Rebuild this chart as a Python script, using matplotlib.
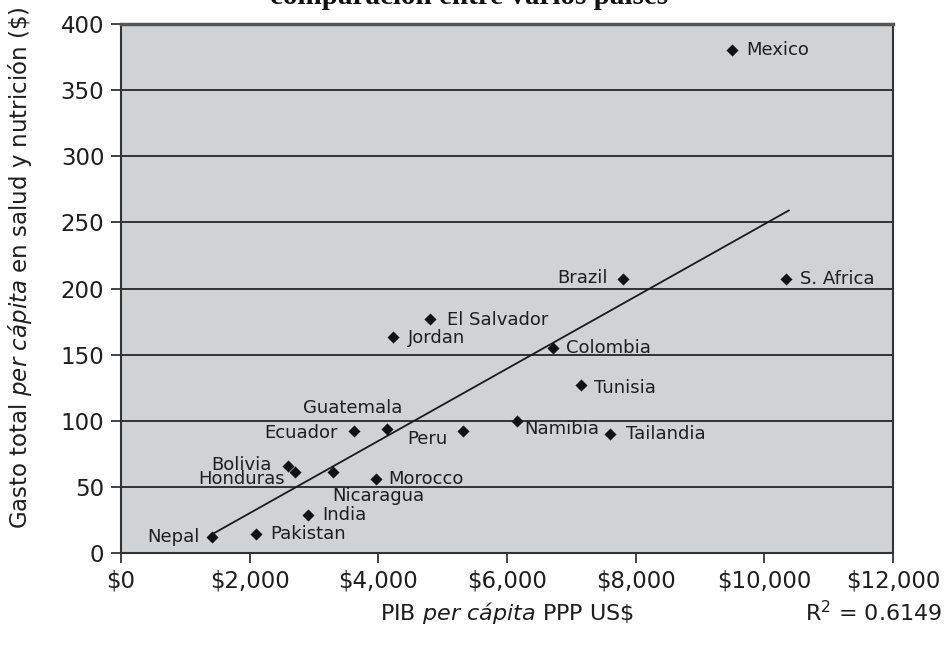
import matplotlib
matplotlib.use('Agg')
import matplotlib.pyplot as plt

# ---------------- data ----------------
countries = ["Nepal", "Pakistan", "India", "Bolivia", "Honduras", "Nicaragua",
             "Morocco", "Ecuador", "Guatemala", "Peru", "Jordan", "El Salvador",
             "Colombia", "Tunisia", "Namibia", "Tailandia", "Brazil", "S. Africa",
             "Mexico"]
gdp_pc = [1410, 2100, 2900, 2590, 2710, 3300, 3970, 3620, 4130, 5310, 4230, 4800,
          6720, 7150, 6150, 7600, 7800, 10340, 9500]
spend_pc = [12, 14, 29, 66, 61, 61, 56, 92, 94, 92, 163, 177, 155, 127, 100, 90,
            207, 207, 380]

trend_x = [1410, 10380]
trend_y = [14, 259]

x_ticks = [0, 2000, 4000, 6000, 8000, 10000, 12000]
x_tick_labels = ["$0", "$2,000", "$4,000", "$6,000", "$8,000", "$10,000", "$12,000"]
y_ticks = [0, 50, 100, 150, 200, 250, 300, 350, 400]
r2_text = "0.6149"

# label placement (offset pixels, horizontal alignment)
label_pos = {
    "Nepal": (-12, 0, "right"), "Pakistan": (14, 0, "left"), "India": (15, 0, "left"),
    "Bolivia": (-16, 1, "right"), "Honduras": (-10, -7, "right"),
    "Nicaragua": (45, -24, "center"), "Morocco": (12, 0, "left"),
    "Ecuador": (-16, -2, "right"), "Guatemala": (-34, 21, "center"),
    "Peru": (-15, -8, "right"), "Jordan": (15, -1, "left"),
    "El Salvador": (17, -1, "left"), "Colombia": (13, 0, "left"),
    "Tunisia": (13, -3, "left"), "Namibia": (8, -8, "left"),
    "Tailandia": (16, 0, "left"), "Brazil": (-15, 1, "right"),
    "S. Africa": (14, 0, "left"), "Mexico": (14, 0, "left"),
}

plt.rcParams['font.family'] = ['DejaVu Sans']
plt.rcParams['mathtext.fontset'] = 'dejavusans'
TXT = '#1e1e1e'

fig = plt.figure(figsize=(9.46, 6.47), dpi=100)
ax = fig.add_axes([121/946, 1 - 553/647, 772/946, 529/647])
ax.set_facecolor('#d1d2d4')
ax.set_xlim(0, 12000)
ax.set_ylim(0, 400)
ax.set_xticks(x_ticks)
ax.set_xticklabels(x_tick_labels)
ax.set_yticks(y_ticks)
ax.tick_params(direction='out', length=7, width=1.2, labelsize=16.5,
               colors='#222222', labelcolor=TXT, pad=5)

for y in y_ticks[1:-1]:
    ax.axhline(y, color='#262626', lw=1.3, zorder=1)

for side, sp in ax.spines.items():
    sp.set_color('#333333')
    sp.set_linewidth(1.5)
ax.spines['top'].set_linewidth(2.5)
ax.spines['top'].set_color('#555555')

ax.plot(trend_x, trend_y, color='#1a1a1a', lw=1.3, zorder=2)
ax.scatter(gdp_pc, spend_pc, marker='D', s=38, color='#111111', zorder=3,
           linewidths=0)

for name, x, y in zip(countries, gdp_pc, spend_pc):
    dx, dy, ha = label_pos[name]
    ax.annotate(name, (x, y), xytext=(dx, dy), textcoords='offset pixels',
                ha=ha, va='center', fontsize=13, color=TXT, zorder=4)

fig.text(20/946, 1 - 268/647,
         r'Gasto total $\mathit{per\ cápita}$ en salud y nutrición (\$)',
         rotation=90, ha='center', va='center', fontsize=16.5, color=TXT)
fig.text(507/946, 1 - 613/647, r'PIB $\mathit{per\ cápita}$ PPP US\$',
         ha='center', va='center', fontsize=16, color=TXT)
fig.text(942/946, 1 - 613/647, r'R$^2$ = ' + r2_text,
         ha='right', va='center', fontsize=16, color=TXT)
fig.text(270/946, 1 - 4/647, 'comparación entre varios países',
         family='Liberation Serif', weight='bold', fontsize=21,
         ha='left', va='baseline', color='#111111')

fig.savefig('out.png', dpi=100)
